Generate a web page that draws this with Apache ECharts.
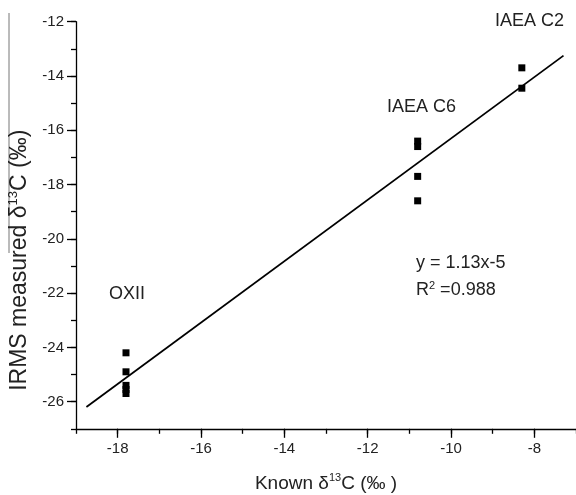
<!DOCTYPE html>
<html><head><meta charset="utf-8">
<script src="https://cdn.jsdelivr.net/npm/echarts@6/dist/echarts.min.js"></script>
<style>html,body{margin:0;padding:0;background:#fff}#c{width:576px;height:495px}</style>
</head><body><div id="c"></div>
<script>
// Data
const oxiiX = [-17.8, -17.8, -17.8, -17.8, -17.8];
const oxiiY = [-24.2, -24.9, -25.4, -25.55, -25.7];
const c6X = [-10.8, -10.8, -10.8, -10.8];
const c6Y = [-16.4, -16.6, -17.7, -18.6];
const c2X = [-8.3, -8.3];
const c2Y = [-13.7, -14.45];
const fitX = [-18.75, -7.3];
const fitY = [-26.2, -13.25];
const xMajorTicks = [-18, -16, -14, -12, -10, -8];
const yMajorTicks = [-26, -24, -22, -20, -18, -16, -14, -12];

const pts = [];
[[oxiiX, oxiiY], [c6X, c6Y], [c2X, c2Y]].forEach(([xs, ys]) => xs.forEach((x, i) => pts.push([x, ys[i]])));
const fit = fitX.map((x, i) => [x, fitY[i]]);

const FONT = 'Liberation Sans, Arial, sans-serif';
const chart = echarts.init(document.getElementById('c'));
const minorAxis = (min, max, pos) => ({
  type: 'value', min, max, interval: 1, position: pos,
  axisLine: { show: true, onZero: false, lineStyle: { color: '#000', width: 1.3 } },
  axisTick: { show: true, length: 5, inside: false, lineStyle: { color: '#000', width: 1.3 } },
  axisLabel: { show: false }, splitLine: { show: false }
});
const majorAxis = (min, max, ticks, pos) => ({
  type: 'value', min, max, position: pos,
  axisLine: { show: false, onZero: false },
  axisTick: { show: true, length: 9, customValues: ticks, lineStyle: { color: '#000', width: 1.3 } },
  axisLabel: { show: true, customValues: ticks, color: '#222', fontSize: 15, fontFamily: FONT },
  splitLine: { show: false }
});
const x0 = minorAxis(-19, -7, 'bottom');
const x1 = Object.assign(majorAxis(-19, -7, xMajorTicks, 'bottom'), {
  name: 'Known δ{sup|13}C (‰ )', nameLocation: 'middle', nameGap: 44,
  nameTextStyle: { color: '#222', fontSize: 19, fontFamily: FONT, rich: { sup: { fontSize: 11, fontFamily: FONT, color: '#222', padding: [0, 0, 10, 0] } } }
});
x1.axisLabel.margin = 13;
const y0 = minorAxis(-27, -12, 'left');
const y1 = Object.assign(majorAxis(-27, -12, yMajorTicks, 'left'), {
  name: 'IRMS measured δ{sup|13}C (‰)', nameLocation: 'middle', nameGap: 44, nameRotate: 90,
  nameTextStyle: { color: '#222', fontSize: 23, fontFamily: FONT, padding: [0, 70, 0, 0],
    rich: { sup: { fontSize: 13, fontFamily: FONT, color: '#222', padding: [0, 0, 12, 0] } } }
});
y1.axisLabel.margin = 12;

const txt = (t, left, top, extra) => ({ type: 'text', left, top, style: Object.assign({ text: t, fill: '#222', font: '18px ' + FONT }, extra || {}) });

chart.setOption({
  animation: false,
  grid: { left: 76, top: 21.7, right: 0, bottom: 66.2, containLabel: false, outerBoundsMode: 'none' },
  xAxis: [x0, x1],
  yAxis: [y0, y1],
  series: [
    { type: 'line', data: fit, xAxisIndex: 0, yAxisIndex: 0, showSymbol: false, symbol: 'none',
      lineStyle: { color: '#000', width: 1.8 } },
    { type: 'scatter', data: pts, xAxisIndex: 0, yAxisIndex: 0, symbol: 'rect', symbolSize: 7,
      itemStyle: { color: '#000', opacity: 1 } }
  ],
  graphic: [
    { type: 'line', shape: { x1: 9, y1: 13, x2: 9, y2: 253 }, style: { stroke: '#777', lineWidth: 1 } },
    txt('IAEA C2', 495, 12),
    txt('IAEA C6', 387, 98),
    txt('OXII', 109, 285),
    txt('y = 1.13x-5', 416, 254),
    { type: 'text', left: 416, top: 280, style: { text: 'R{sup|2} =0.988', fill: '#222', font: '18px ' + FONT,
      rich: { sup: { fontSize: 11, fontFamily: FONT, fill: '#222', padding: [0, 0, 9, 0] } } } }
  ]
});
</script></body></html>
